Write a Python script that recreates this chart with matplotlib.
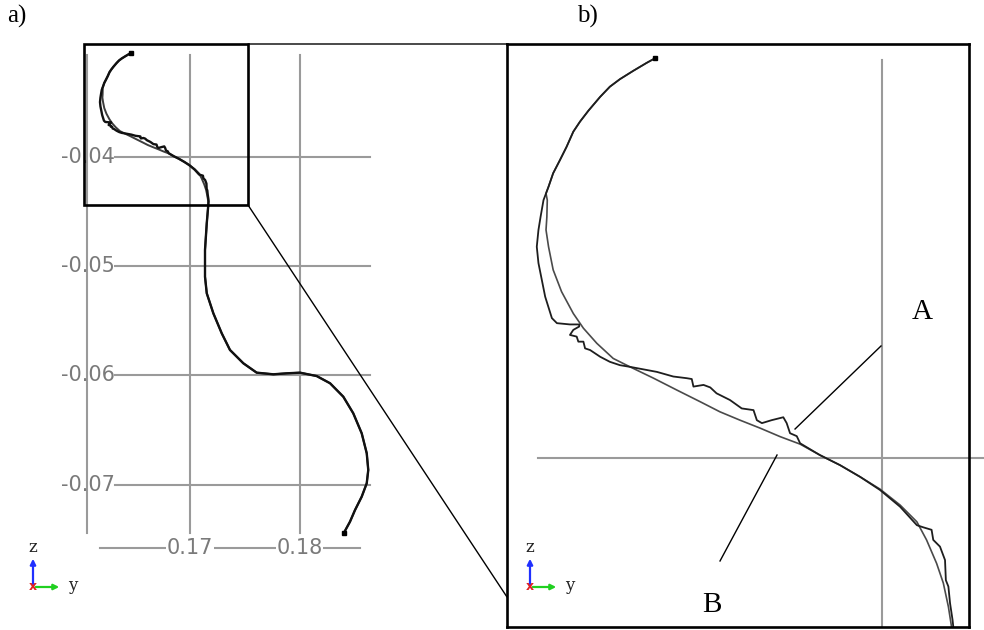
import numpy as np
import matplotlib.pyplot as plt
from matplotlib.patches import Rectangle, ConnectionPatch, FancyArrowPatch

# upper arc, common to the measured track and the model curve
head_y = [0.16460, 0.16440, 0.16408, 0.16376, 0.16352, 0.16329, 0.16301,
          0.16281, 0.16265, 0.16249, 0.16233, 0.16217, 0.16206, 0.16200]
head_z = [-0.03048, -0.03059, -0.03078, -0.03098, -0.03116, -0.03140, -0.03173,
          -0.03199, -0.03223, -0.03259, -0.03291, -0.03322, -0.03354, -0.03370]

# measured track (A) through the bend
track_y = [0.16194, 0.16187, 0.16182, 0.16178, 0.16182, 0.16190, 0.16198, 0.16214,
           0.16226, 0.16257, 0.16279, 0.16279, 0.16265, 0.16257, 0.16273, 0.16277,
           0.16289, 0.16293, 0.16305, 0.16329, 0.16352, 0.16376, 0.16400, 0.16432,
           0.16464, 0.16503, 0.16535, 0.16547, 0.16551, 0.16575, 0.16591, 0.16606,
           0.16638, 0.16666, 0.16694, 0.16702, 0.16714, 0.16737, 0.16765, 0.16773,
           0.16781, 0.16797, 0.16805, 0.16852, 0.16900, 0.16948, 0.16995, 0.17043,
           0.17083, 0.17098, 0.17118, 0.17122, 0.17138, 0.17150, 0.17152, 0.17158,
           0.17162, 0.17168, 0.17170]
track_z = [-0.03386, -0.03426, -0.03457, -0.03497, -0.03536, -0.03576, -0.03616, -0.03667,
           -0.03679, -0.03682, -0.03682, -0.03687, -0.03695, -0.03707, -0.03711, -0.03723,
           -0.03723, -0.03739, -0.03743, -0.03759, -0.03771, -0.03779, -0.03783, -0.03789,
           -0.03795, -0.03806, -0.03810, -0.03812, -0.03830, -0.03826, -0.03832, -0.03846,
           -0.03862, -0.03882, -0.03886, -0.03910, -0.03917, -0.03910, -0.03903, -0.03917,
           -0.03941, -0.03948, -0.03965, -0.03993, -0.04017, -0.04045, -0.04076, -0.04116,
           -0.04160, -0.04165, -0.04171, -0.04195, -0.04211, -0.04243, -0.04291, -0.04306,
           -0.04346, -0.04386, -0.04405]

# model curve (B) through the bend
model_y = [0.16203, 0.16202, 0.16200, 0.16206, 0.16217, 0.16237, 0.16265, 0.16289,
           0.16321, 0.16360, 0.16400, 0.16456, 0.16511, 0.16567, 0.16614, 0.16662,
           0.16710, 0.16757, 0.16805, 0.16852, 0.16900, 0.16948, 0.16995, 0.17043,
           0.17083, 0.17106, 0.17130, 0.17146, 0.17158, 0.17166]
model_z = [-0.03386, -0.03426, -0.03457, -0.03497, -0.03552, -0.03604, -0.03656, -0.03691,
           -0.03727, -0.03763, -0.03783, -0.03810, -0.03838, -0.03866, -0.03890, -0.03910,
           -0.03929, -0.03949, -0.03967, -0.03993, -0.04017, -0.04045, -0.04074, -0.04112,
           -0.04152, -0.04195, -0.04251, -0.04298, -0.04354, -0.04405]

# lower S-bend, common to both curves
tail_y = [0.17167, 0.17153, 0.17137, 0.17137, 0.17153, 0.17213, 0.17290, 0.17365,
          0.17487, 0.17609, 0.17761, 0.17883, 0.18005, 0.18157, 0.18279, 0.18400,
          0.18491, 0.18568, 0.18614, 0.18628, 0.18614, 0.18568, 0.18507, 0.18461, 0.18406]
tail_z = [-0.04440, -0.04607, -0.04852, -0.05096, -0.05248, -0.05431, -0.05615, -0.05767,
          -0.05889, -0.05975, -0.05990, -0.05981, -0.05975, -0.06006, -0.06072, -0.06195,
          -0.06347, -0.06530, -0.06713, -0.06866, -0.06988, -0.07111, -0.07233, -0.07340, -0.07441]

y_ticks = [0.17, 0.18]
z_ticks = [-0.04, -0.05, -0.06, -0.07]

meas_y = np.array(head_y + track_y + tail_y)
meas_z = np.array(head_z + track_z + tail_z)
calc_y = np.array(head_y + model_y + tail_y)
calc_z = np.array(head_z + model_z + tail_z)

W, H = 984, 630
fig = plt.figure(figsize=(W / 100, H / 100), dpi=100)


def fpos(x, y):
    # pixel position (origin top-left) -> figure fraction
    return x / W, 1 - y / H


grid_c = "#9a9a9a"
text_c = "#7a7a7a"
serif = "Liberation Serif"

# ---------- a) full trajectory ----------
ax_a = fig.add_axes([40 / W, 1 - 600 / H, 360 / W, 570 / H])
ax_a.set_xlim(0.156301, 0.189178)
ax_a.set_ylim(-0.080568, -0.028370)
ax_a.axis("off")

gz_top, gz_bot = -0.030659, -0.074432
for y in [0.160594] + y_ticks:
    ax_a.plot([y, y], [gz_top, gz_bot], color=grid_c, lw=1.5, zorder=1)
for z in z_ticks:
    ax_a.plot([0.16315, 0.18644], [z, z], color=grid_c, lw=1.5, zorder=1)
    ax_a.text(0.16315, z, f"{z:.2f}", ha="right", va="center", fontsize=15,
              color=text_c, family="DejaVu Sans")

z_axis = -0.075806
ax_a.plot([0.161781, 0.185525], [z_axis, z_axis], color=grid_c, lw=1.5, zorder=1)
for y in y_ticks:
    ax_a.text(y, z_axis, f"{y:.2f}", ha="center", va="center", fontsize=15,
              color=text_c, family="DejaVu Sans",
              bbox=dict(facecolor="white", edgecolor="none", pad=0.5))

ax_a.plot(calc_y, calc_z, color="#3c3c3c", lw=1.4, zorder=3)
ax_a.plot(meas_y, meas_z, color="#111111", lw=1.7, zorder=4)
ax_a.plot([meas_y[0], meas_y[-1]], [meas_z[0], meas_z[-1]], "s", color="black", ms=3.5, zorder=5)

box_y0, box_y1 = 0.160320, 0.175297
box_z0, box_z1 = -0.044396, -0.029652
ax_a.add_patch(Rectangle((box_y0, box_z0), box_y1 - box_y0, box_z1 - box_z0,
                         fill=False, edgecolor="black", lw=1.9, zorder=6))

# ---------- b) close-up of the upper bend ----------
ax_b = fig.add_axes([507 / W, 1 - 627 / H, 462 / W, 583 / H])
ax_b.set_xlim(0.161071, 0.172071)
ax_b.set_ylim(-0.044024, -0.030143)
ax_b.set_xticks([])
ax_b.set_yticks([])
for sp in ax_b.spines.values():
    sp.set_linewidth(1.9)
    sp.set_zorder(6)

ax_b.plot([0.17, 0.17], [-0.030524, -0.0445], color=grid_c, lw=1.5, zorder=1)
ax_b.plot([0.161810, 0.172429], [-0.04, -0.04], color=grid_c, lw=1.5, zorder=1, clip_on=False)

ax_b.plot(calc_y, calc_z, color="#4a4a4a", lw=1.2, zorder=3)
ax_b.plot(meas_y, meas_z, color="#1e1e1e", lw=1.3, zorder=4)
ax_b.plot(meas_y[0], meas_z[0], "s", color="black", ms=3.5, zorder=5)

ax_b.text(0.170952, -0.036524, "A", ha="center", va="center", fontsize=21, family=serif)
ax_b.text(0.165952, -0.043500, "B", ha="center", va="center", fontsize=21, family=serif)
ax_b.plot([0.169976, 0.167929], [-0.037333, -0.039310], color="black", lw=1.0, zorder=5)
ax_b.plot([0.167500, 0.166143], [-0.039929, -0.042452], color="black", lw=1.0, zorder=5)

# lines joining the frame in a) to panel b)
for za, zb in [(box_z1, -0.030143), (box_z0, -0.043310)]:
    con = ConnectionPatch(xyA=(box_y1, za), coordsA=ax_a.transData,
                          xyB=(0.161071, zb), coordsB=ax_b.transData,
                          color="black", lw=1.0)
    fig.add_artist(con)

# orientation triads
for ox, oy in [(33, 587), (530, 587)]:
    fig.add_artist(FancyArrowPatch(fpos(ox, oy), fpos(ox, oy - 31), transform=fig.transFigure,
                                   arrowstyle="-|>", mutation_scale=8, color="#2030ff", lw=1.6))
    fig.add_artist(FancyArrowPatch(fpos(ox, oy), fpos(ox + 29, oy), transform=fig.transFigure,
                                   arrowstyle="-|>", mutation_scale=8, color="#20d020", lw=1.6))
    fig.text(*fpos(ox, oy - 39), "z", ha="center", va="center", fontsize=12,
             family="DejaVu Serif", color="#222222")
    fig.text(*fpos(ox + 40, oy - 2), "y", ha="center", va="center", fontsize=12,
             family="DejaVu Serif", color="#222222")
    fig.text(*fpos(ox, oy), "x", ha="center", va="center", fontsize=9,
             family="DejaVu Sans", color="#e02020", weight="bold")

fig.text(*fpos(7, 16), "a)", ha="left", va="center", fontsize=18, family=serif)
fig.text(*fpos(577, 16), "b)", ha="left", va="center", fontsize=18, family=serif)

fig.savefig("out.png", dpi=100, facecolor="white")
